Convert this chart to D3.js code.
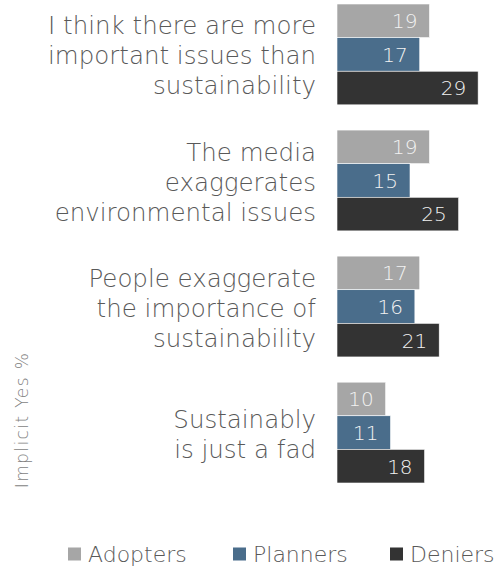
<!DOCTYPE html>
<html>
<head>
<meta charset="utf-8">
<script src="https://cdn.jsdelivr.net/npm/d3@7"></script>
<style>
  html, body { margin: 0; padding: 0; background: #ffffff; }
  svg { display: block; font-family: "DejaVu Sans", "Open Sans", sans-serif; font-weight: 200; }
</style>
</head>
<body>
<svg id="chart" width="504" height="566"></svg>
<script>
// Statements (each broken into display lines)
const categories = [
  ["I think there are more", "important issues than", "sustainability"],
  ["The media", "exaggerates", "environmental issues"],
  ["People exaggerate", "the importance of", "sustainability"],
  ["Sustainably", "is just a fad"]
];
const seriesNames = ["Adopters", "Planners", "Deniers"];
const adopters = [19, 19, 17, 10];
const planners = [17, 15, 16, 11];
const deniers  = [29, 25, 21, 18];
const colors = ["#a6a6a6", "#4a6d8b", "#333333"];
const axisTitle = "Implicit Yes %";

const seriesValues = [adopters, planners, deniers];
const svg = d3.select("#chart");

const groupKeys = categories.map((c, i) => i);
const y0 = d3.scaleBand().domain(groupKeys).range([4, 483]).paddingInner(0.2).paddingOuter(0);
const y1 = d3.scaleBand().domain(seriesNames).range([0, y0.bandwidth()]).padding(0);
const x = d3.scaleLinear().domain([0, 30]).range([337, 483]);

const groups = svg.selectAll("g.group")
  .data(groupKeys)
  .join("g")
  .attr("class", "group")
  .attr("transform", i => `translate(0,${y0(i)})`);

// Bars
groups.selectAll("rect")
  .data(i => seriesNames.map((s, k) => ({ s, k, v: seriesValues[k][i] })))
  .join("rect")
  .attr("x", x(0))
  .attr("y", d => y1(d.s))
  .attr("width", d => x(d.v) - x(0))
  .attr("height", y1.bandwidth())
  .attr("fill", d => colors[d.k])
  .attr("stroke", "#ffffff")
  .attr("stroke-width", 0.6);

// Value labels inside bar ends
groups.selectAll("text.val")
  .data(i => seriesNames.map((s, k) => ({ s, k, v: seriesValues[k][i] })))
  .join("text")
  .attr("class", "val")
  .attr("x", d => x(d.v) - 12)
  .attr("y", d => y1(d.s) + y1.bandwidth() / 2)
  .attr("dy", "0.37em")
  .attr("text-anchor", "end")
  .attr("font-size", 20)
  .attr("fill", "#f2f2f2")
  .text(d => d.v);

// Category labels, right aligned, centred on each group
const lineH = 30;
groups.append("text")
  .attr("class", "cat")
  .attr("text-anchor", "end")
  .attr("font-size", 24.5)
  .attr("fill", "#595959")
  .each(function (i) {
    const lines = categories[i];
    const t = d3.select(this);
    const mid = y0.bandwidth() / 2;
    lines.forEach((ln, j) => {
      t.append("tspan")
        .attr("x", 316)
        .attr("y", mid + (j - (lines.length - 1) / 2) * lineH)
        .attr("dy", "0.41em")
        .text(ln);
    });
  });

// Axis title
svg.append("text")
  .attr("transform", "translate(28,420) rotate(-90)")
  .attr("text-anchor", "middle")
  .attr("font-size", 17)
  .attr("letter-spacing", 1.4)
  .attr("fill", "#7f7f7f")
  .text(axisTitle);

// Legend
const legendX = [68, 233, 390];
const leg = svg.selectAll("g.leg")
  .data(seriesNames)
  .join("g")
  .attr("class", "leg")
  .attr("transform", (d, k) => `translate(${legendX[k]},554)`);
leg.append("rect")
  .attr("x", 0).attr("y", -6.5)
  .attr("width", 13).attr("height", 13)
  .attr("fill", (d, k) => colors[k]);
leg.append("text")
  .attr("x", 20)
  .attr("dy", "0.36em")
  .attr("font-size", 22)
  .attr("fill", "#595959")
  .text(d => d);
</script>
</body>
</html>
